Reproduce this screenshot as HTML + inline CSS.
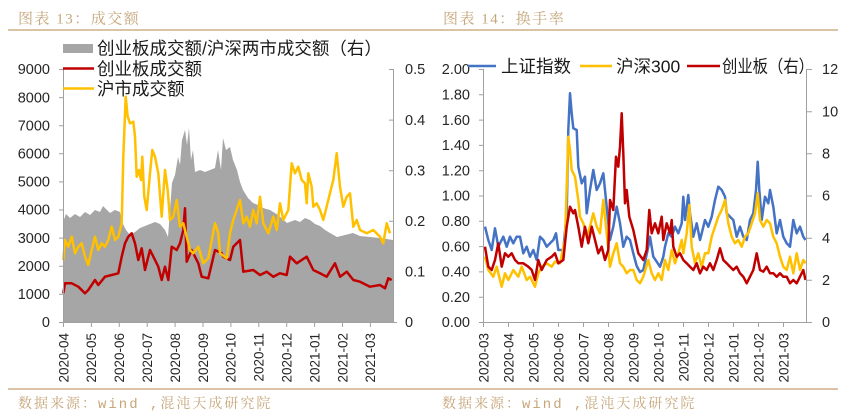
<!DOCTYPE html>
<html><head><meta charset="utf-8">
<style>
html,body{margin:0;padding:0;background:#fff;}
svg{display:block;}
.t{font-family:"Liberation Sans",sans-serif;font-size:14.5px;fill:#262626;}
.d{font-family:"Liberation Sans",sans-serif;font-size:13.5px;fill:#262626;}
.lg{font-family:"Liberation Sans","Noto Sans CJK SC",sans-serif;font-size:17.5px;fill:#1a1a1a;}
.ti{font-family:"Liberation Serif","Noto Serif CJK SC",serif;font-size:15px;fill:#c6a67a;letter-spacing:1.5px;}
.src{font-family:"Liberation Mono","Noto Serif CJK SC",monospace;font-size:14px;fill:#c6a67a;letter-spacing:2px;}
</style></head>
<body>
<svg width="850" height="416" viewBox="0 0 850 416" xmlns="http://www.w3.org/2000/svg">
<rect width="850" height="416" fill="#fff"/>
<!-- titles & separators -->
<text class="ti" x="18" y="23.7">图表 13：成交额</text>
<text class="ti" x="443" y="23.7">图表 14：换手率</text>
<line x1="8" y1="30" x2="838" y2="30" stroke="#cfb188" stroke-width="1.5"/>
<line x1="8" y1="389" x2="838" y2="389" stroke="#cfb188" stroke-width="1.5"/>
<text class="src" x="18" y="408">数据来源：wind ,混沌天成研究院</text>
<text class="src" x="442" y="408">数据来源：wind ,混沌天成研究院</text>

<!-- ===== LEFT CHART ===== -->
<polygon fill="#a6a6a6" points="63,322 63,222 66,214 70,218 75,214 80,217 85,212 90,215 95,210 100,212 103,206 106,209 110,213 115,210 120,212 122,222 126,230 130,235 135,232 140,228 145,226 150,224 155,222 160,224 165,230 168,237 170,210 172,183 175,175 178,157 180,165 182,140 185,130 187,145 189,128 191,160 193,150 195,172 200,170 205,172 210,170 215,168 218,150 221,170 223,138 226,150 230,147 233,160 237,170 240,182 243,190 248,198 253,203 258,205 263,208 270,210 278,215 287,223 295,220 300,222 305,218 310,220 315,224 320,226 325,230 330,233 337,237 345,235 353,233 360,236 370,237 380,238 393,240 393,322"/>
<!-- red -->
<polyline fill="none" stroke="#c00000" stroke-width="2.5" stroke-linejoin="round" points="63.3,293.3 65,283.3 71.7,283.3 78.3,286.7 85,293.3 88.3,290 95,280 98.3,285 105,276.7 111.7,275 118.3,273.3 121.7,256.7 125,243.3 128.3,236.7 131.7,233.3 135,243.3 138.3,260 141.7,248.3 145,270 150,250 155,260 158.3,266.7 161.7,280 165,266.7 168.3,280 171.7,246.7 176.7,250 180,243.3 183.3,230 185,208.3 186.7,261.7 191.7,250 195,256.7 198.3,263.3 201.7,276.7 208.3,278.3 215,250 221.7,253.3 223.3,256.7 230,260 233.3,246.7 240,240 243.3,271.7 253.3,270 260,275 266.7,271.7 273.3,276.7 280,273.3 286.7,275 290,256.7 296.7,263.3 306.7,256.7 313.3,270 320,273.3 326.7,276.7 335,263.3 340,276.7 346.7,271.7 353.3,280 360,281.7 370,286.7 380,285 385,288.3 388.3,278.3 391.7,280"/>
<!-- yellow -->
<polyline fill="none" stroke="#ffc000" stroke-width="2.5" stroke-linejoin="round" points="63.3,260 65,240 68.3,246.7 71.7,236.7 75,253.3 78.3,246.7 81.7,243.3 85,256.7 88.3,265 91.7,250 95,236.7 98.3,250 101.7,243.3 105,246.7 108.3,240 111.7,226.7 115,240 118.3,236.7 121.7,223.3 123.3,156.7 125.7,96.7 127.7,116.7 130,123.3 133.3,121.7 135,136.7 136.7,176.7 139,170 141,180 142.3,156.7 144.3,196.7 146.7,210 150,173.3 152.3,150 155,156.7 158.3,173.3 161.7,216.7 165,170 167.7,190 170,220 173.3,216.7 176.7,200 180,226.7 183.3,223.3 186.7,236.7 190,250 193.3,253.3 198.3,246.7 203.3,263.3 208.3,258.3 215,223.3 218.3,233.3 220,253.3 226.7,258.3 230,233.3 233.3,220 240,200 243.3,223.3 246.7,216.7 250,226.7 253.3,210 256.7,223.3 260,196.7 263.3,223.3 268.3,233.3 273.3,216.7 276.7,230 280,203.3 283.3,220 288.3,210 291.7,163.3 295,173.3 298.3,166.7 301.7,180 305,183.3 306.7,203.3 308.3,173.3 311.7,186.7 313.3,206.7 316.7,203.3 320,210 323.3,220 328.3,200 333.3,180 336.7,153.3 340,186.7 343.3,206.7 346.7,196.7 350,193.3 353.3,226.7 356.7,220 360,230 366.7,233.3 373.3,230 380,236.7 383.3,243.3 386.7,223.3 390,233.3"/>
<!-- axes -->
<g stroke="#a0a0a0" stroke-width="1" fill="none">
<line x1="63.5" y1="69" x2="63.5" y2="322"/>
<line x1="393.5" y1="69" x2="393.5" y2="322"/>
<line x1="63" y1="322.5" x2="394" y2="322.5"/>
<path d="M59,69.5H63.5M59,97.6H63.5M59,125.7H63.5M59,153.8H63.5M59,181.9H63.5M59,210H63.5M59,238.1H63.5M59,266.2H63.5M59,294.3H63.5M59,322.5H63.5"/>
<path d="M389,69.5H393.5M389,120.1H393.5M389,170.7H393.5M389,221.3H393.5M389,271.9H393.5M389,322.5H397"/>
<path d="M63.5,322V327M91.4,322V327M119.3,322V327M147.2,322V327M175.1,322V327M203,322V327M230.9,322V327M258.8,322V327M286.7,322V327M314.6,322V327M342.5,322V327M370.4,322V327"/>
</g>
<g class="t" text-anchor="end">
<text x="50" y="74.2">9000</text><text x="50" y="102.3">8000</text><text x="50" y="130.4">7000</text><text x="50" y="158.5">6000</text><text x="50" y="186.6">5000</text><text x="50" y="214.7">4000</text><text x="50" y="242.8">3000</text><text x="50" y="270.9">2000</text><text x="50" y="299">1000</text><text x="50" y="327.2">0</text>
</g>
<g class="t">
<text x="405" y="74.2">0.5</text><text x="405" y="124.8">0.4</text><text x="405" y="175.4">0.3</text><text x="405" y="226">0.2</text><text x="405" y="276.6">0.1</text><text x="405" y="327.2">0</text>
</g>
<g class="d" text-anchor="end">
<text transform="translate(68.3,333) rotate(-90)">2020-04</text>
<text transform="translate(96.2,333) rotate(-90)">2020-05</text>
<text transform="translate(124.1,333) rotate(-90)">2020-06</text>
<text transform="translate(152,333) rotate(-90)">2020-07</text>
<text transform="translate(179.9,333) rotate(-90)">2020-08</text>
<text transform="translate(207.8,333) rotate(-90)">2020-09</text>
<text transform="translate(235.7,333) rotate(-90)">2020-10</text>
<text transform="translate(263.6,333) rotate(-90)">2020-11</text>
<text transform="translate(291.5,333) rotate(-90)">2020-12</text>
<text transform="translate(319.4,333) rotate(-90)">2021-01</text>
<text transform="translate(347.3,333) rotate(-90)">2021-02</text>
<text transform="translate(375.2,333) rotate(-90)">2021-03</text>
</g>
<!-- left legend -->
<rect x="63" y="44" width="30" height="9" fill="#a6a6a6"/>
<line x1="63" y1="68.5" x2="94" y2="68.5" stroke="#c00000" stroke-width="2.5"/>
<line x1="63" y1="88.5" x2="94" y2="88.5" stroke="#ffc000" stroke-width="2.5"/>
<text class="lg" x="97" y="54.6">创业板成交额/沪深两市成交额（右）</text>
<text class="lg" x="97" y="74.8">创业板成交额</text>
<text class="lg" x="97" y="94.8">沪市成交额</text>

<!-- ===== RIGHT CHART ===== -->
<!-- blue -->
<polyline fill="none" stroke="#4472c4" stroke-width="2.5" stroke-linejoin="round" points="485,226.7 488.3,240 491.7,250 495,228.3 498.3,246.7 503.3,236.7 506.7,246.7 510,236.7 513.3,243.3 516.7,236.7 520,236.7 523.3,253.3 526.7,246.7 530,256.7 533.3,250 536.7,260 540,236.7 543.3,240 546.7,246.7 550,243.3 553.3,240 556,233.3 558.3,250 563.3,250 566.7,213.3 568.3,130 570,93.3 571.7,113.3 573.3,128.3 576.7,130 578.3,166.7 581.7,183.3 585,176.7 586.7,213.3 590,190 593.3,170 596.7,190 600,183.3 603.3,173.3 606.7,206.7 610,240 613.3,226.7 616.7,206.7 620,223.3 623.3,246.7 626.7,236.7 630,240 633.3,253.3 636.7,266 640,272 643.3,270 648.3,246.7 650,236.7 653.3,256.7 656.7,261.7 660,266.7 663.3,256.7 665,246.7 668.3,233.3 671.7,236.7 675,226.7 678.3,233.3 681.7,223.3 683.3,196.7 685,220 688.3,195 690,213.3 693.3,236.7 696.7,223.3 700,240 701.7,233.3 705,220 708.3,226.7 711.7,216.7 715,200 718.3,186.7 721.7,190 725,196.7 726.7,213.3 730,216.7 733.3,220 736.7,236.7 740,226.7 743.3,236.7 746.7,240 750,220 753.3,213.3 756,190 757.7,161.7 759.3,190 761.7,220 765,196.7 768.3,203.3 770,190 773.3,206.7 776.7,233.3 780,220 783.3,236.7 786.7,243.3 790,246.7 793.3,220 796.7,233.3 800,226.7 803.3,236.7 805.5,240"/>
<!-- yellow -->
<polyline fill="none" stroke="#ffc000" stroke-width="2.5" stroke-linejoin="round" points="485,256.7 488.3,270 493.3,276.7 496.7,266.7 501.7,286.7 505,273.3 508.3,280 513.3,270 518.3,276.7 521.7,266.7 526.7,280 530,276.7 535,286.7 538.3,273.3 541.7,266.7 546.7,263.3 551.7,266.7 555,261.7 560,263.3 565,240 568.3,136.7 570,150 571.7,170 575,176.7 578.3,200 580,216.7 583.3,223.3 586.7,236.7 590,226.7 593.3,213.3 596.7,226.7 600,233.3 603.3,200 606.7,233.3 610,266.7 613.3,253.3 616.7,243.3 620,263.3 623.3,266.7 626.7,273.3 630,270 633.3,270 636.7,280 640,283.3 643.3,276.7 648.3,260 651.7,273.3 655,280 658.3,273.3 661.7,280 665,260 668.3,270 671.7,250 675,263.3 678.3,253.3 681.7,240 683.3,253.3 686.7,233.3 689.3,205 691.7,246.7 695,263.3 698.3,253.3 701.7,266.7 705,253.3 708.3,253.3 711.7,236.7 715,226.7 718.3,216.7 721.7,210 725,200 728.3,223.3 731.7,236.7 735,243.3 738.3,240 741.7,246.7 745,236.7 748.3,233.3 751.7,223.3 755,213.3 757.7,193.3 760,220 763.3,226.7 766.7,220 770,223.3 773.3,236.7 776.7,243.3 780,256.7 783.3,266.7 786.7,270 790,256.7 793.3,273.3 796.7,253.3 800,270 803.3,260 805.5,263.3"/>
<!-- red -->
<polyline fill="none" stroke="#c00000" stroke-width="2.5" stroke-linejoin="round" points="485,246.7 488.3,266.7 491.7,270 495,260 498.3,243.3 501.7,266.7 505,253.3 508.3,256.7 511.7,253.3 515,260 518.3,263.3 523.3,263.3 528.3,266.7 531.7,270 535,280 538.3,260 541.7,270 546.7,260 551.7,256.7 555,253.3 558.3,263.3 563.3,260 566.7,226.7 570,206.7 573.3,213.3 575,210 578.3,226.7 581.7,246.7 585,226.7 588.3,243.3 591.7,226.7 595,240 598.3,253.3 601.7,246.7 605,260 608.3,250 610,200 613.3,210 616,156.7 618.3,166.7 620,146.7 621.7,113.3 623.3,153.3 625,203.3 626.7,190 629.3,216.7 633.3,230 638.3,253.3 643.3,260 646.7,250 649.3,210 651.7,233.3 655,223.3 658.3,233.3 661.7,216.7 663.3,240 666.7,223.3 670,233.3 671.7,220 673.3,246.7 676.7,256.7 680,253.3 683.3,260 686.7,263.3 690,266.7 693.3,270 696.7,263.3 700,273.3 703.3,266.7 706.7,270 710,263.3 713.3,270 716.7,260 720,248.3 723.3,260 726.7,263.3 730,266.7 733.3,270 736.7,266.7 740,273.3 743.3,276.7 746.7,283.3 750,276.7 753.3,270 756.7,253.3 760,270 763.3,271.7 766.7,266.7 770,273.3 773.3,273.3 776.7,276.7 780,273.3 783.3,276.7 786.7,276.7 790,283.3 793.3,280 796.7,283.3 800,276.7 803.3,270 805.5,280"/>
<!-- axes -->
<g stroke="#a0a0a0" stroke-width="1" fill="none">
<line x1="483.5" y1="69" x2="483.5" y2="322"/>
<line x1="806.5" y1="69" x2="806.5" y2="322"/>
<line x1="483" y1="322.5" x2="807" y2="322.5"/>
<path d="M479,69.5H483.5M479,94.8H483.5M479,120.1H483.5M479,145.4H483.5M479,170.7H483.5M479,196H483.5M479,221.3H483.5M479,246.6H483.5M479,271.9H483.5M479,297.2H483.5M479,322.5H483.5"/>
<path d="M806.5,69.5H812M806.5,111.7H812M806.5,153.8H812M806.5,196H812M806.5,238.2H812M806.5,280.3H812M806.5,322.5H812"/>
<path d="M483.5,322V327M508.5,322V327M533.5,322V327M558.5,322V327M583.5,322V327M608.5,322V327M633.5,322V327M658.5,322V327M683.5,322V327M708.5,322V327M733.5,322V327M758.5,322V327M783.5,322V327"/>
</g>
<g class="t" text-anchor="end">
<text x="470" y="74.2">2.00</text><text x="470" y="99.5">1.80</text><text x="470" y="124.8">1.60</text><text x="470" y="150.1">1.40</text><text x="470" y="175.4">1.20</text><text x="470" y="200.7">1.00</text><text x="470" y="226">0.80</text><text x="470" y="251.3">0.60</text><text x="470" y="276.6">0.40</text><text x="470" y="301.9">0.20</text><text x="470" y="327.2">0.00</text>
</g>
<g class="t">
<text x="822" y="74.2">12</text><text x="822" y="116.4">10</text><text x="822" y="158.5">8</text><text x="822" y="200.7">6</text><text x="822" y="242.9">4</text><text x="822" y="285">2</text><text x="822" y="327.2">0</text>
</g>
<g class="d" text-anchor="end">
<text transform="translate(488.3,333) rotate(-90)">2020-03</text>
<text transform="translate(513.3,333) rotate(-90)">2020-04</text>
<text transform="translate(538.3,333) rotate(-90)">2020-05</text>
<text transform="translate(563.3,333) rotate(-90)">2020-06</text>
<text transform="translate(588.3,333) rotate(-90)">2020-07</text>
<text transform="translate(613.3,333) rotate(-90)">2020-08</text>
<text transform="translate(638.3,333) rotate(-90)">2020-09</text>
<text transform="translate(663.3,333) rotate(-90)">2020-10</text>
<text transform="translate(688.3,333) rotate(-90)">2020-11</text>
<text transform="translate(713.3,333) rotate(-90)">2020-12</text>
<text transform="translate(738.3,333) rotate(-90)">2021-01</text>
<text transform="translate(763.3,333) rotate(-90)">2021-02</text>
<text transform="translate(788.3,333) rotate(-90)">2021-03</text>
</g>
<!-- right legend -->
<line x1="468" y1="66" x2="496" y2="66" stroke="#4472c4" stroke-width="2.5"/>
<text class="lg" x="501" y="72.5">上证指数</text>
<line x1="580" y1="66" x2="612" y2="66" stroke="#ffc000" stroke-width="2.5"/>
<text class="lg" x="616" y="72.5">沪深300</text>
<line x1="687" y1="66" x2="720" y2="66" stroke="#c00000" stroke-width="2.5"/>
<text class="lg" x="722" y="72.5" textLength="92" lengthAdjust="spacingAndGlyphs">创业板（右）</text>
</svg>
</body></html>
